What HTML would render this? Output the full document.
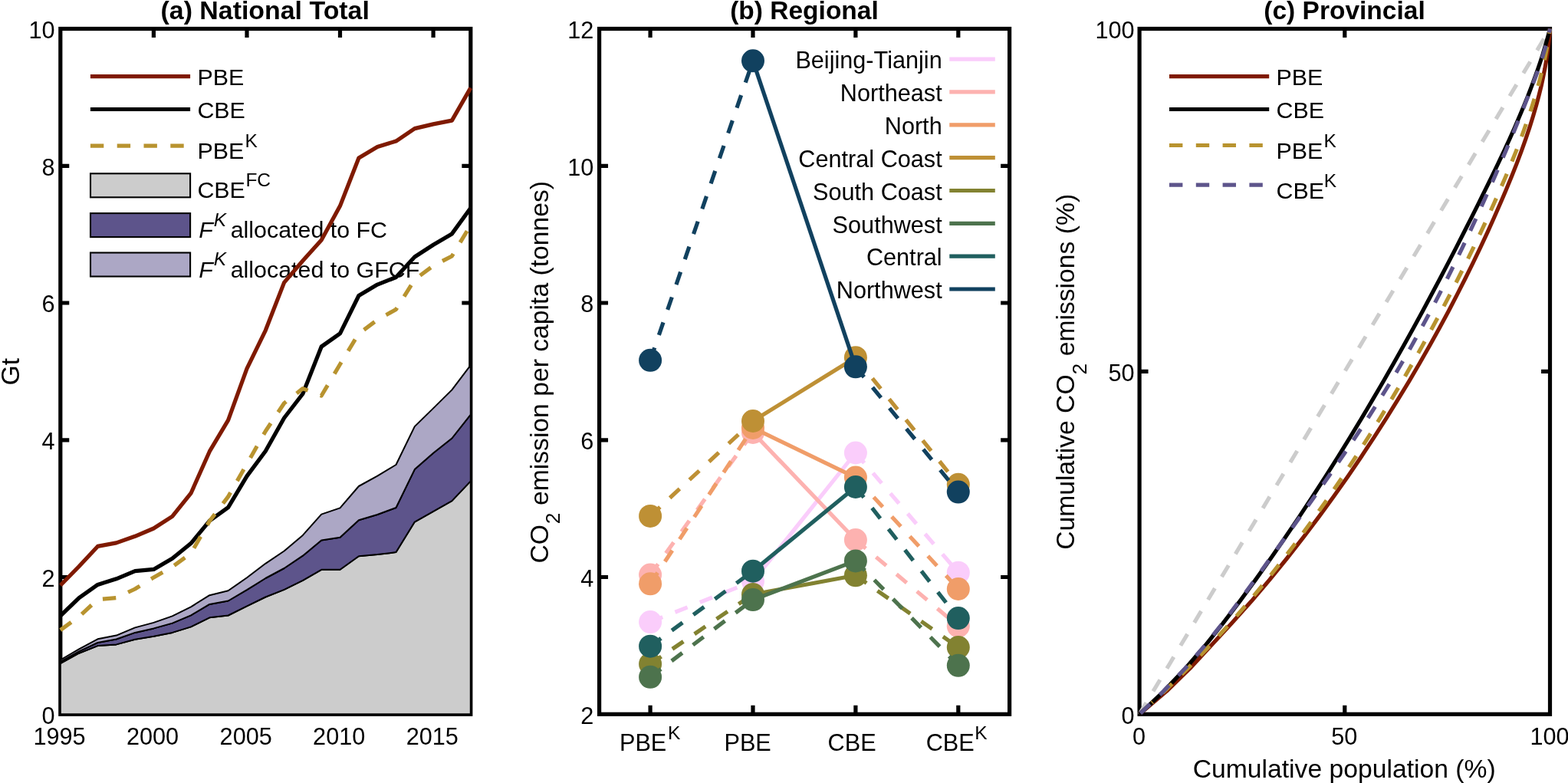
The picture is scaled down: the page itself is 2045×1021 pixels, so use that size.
<!DOCTYPE html>
<html lang="en">
<head>
<meta charset="utf-8">
<title>Emissions: national total, regional, provincial</title>
<style>
html,body{margin:0;padding:0;background:#fff;}
body{width:2045px;height:1021px;overflow:hidden;}
svg{display:block;}
svg text{font-family:"Liberation Sans",sans-serif;font-size:30.65px;fill:#000;}
svg text.L{font-size:33.7px;}
svg text.g{font-size:30.4px;}
svg text.T{font-size:33.9px;font-weight:bold;}
</style>
</head>
<body>
<svg width="2045" height="1021" viewBox="0 0 2045 1021" role="img" aria-label="Three-panel figure: (a) National Total, (b) Regional, (c) Provincial">
<rect width="2045" height="1021" fill="#fff"/>
<g id="panel-a">
<rect x="78.8" y="37.5" width="535" height="893.8" fill="none" stroke="#000" stroke-width="5.2"/>
<path d="M200.4 931.3v-11.45M200.4 37.5v11.45M322 931.3v-11.45M322 37.5v11.45M443.5 931.3v-11.45M443.5 37.5v11.45M565.1 931.3v-11.45M565.1 37.5v11.45M78.8 752.5h11.45M613.8 752.5h-11.45M78.8 573.8h11.45M613.8 573.8h-11.45M78.8 395h11.45M613.8 395h-11.45M78.8 216.3h11.45M613.8 216.3h-11.45" fill="none" stroke="#000" stroke-width="5.2"/>
<text x="71.6" y="943.6" text-anchor="end">0</text>
<text x="71.6" y="764.8" text-anchor="end">2</text>
<text x="71.6" y="586.1" text-anchor="end">4</text>
<text x="71.6" y="407.3" text-anchor="end">6</text>
<text x="71.6" y="228.6" text-anchor="end">8</text>
<text x="71.6" y="49.8" text-anchor="end">10</text>
<text x="77.5" y="970.6" text-anchor="middle">1995</text>
<text x="199.1" y="970.6" text-anchor="middle">2000</text>
<text x="320.7" y="970.6" text-anchor="middle">2005</text>
<text x="442.2" y="970.6" text-anchor="middle">2010</text>
<text x="563.8" y="970.6" text-anchor="middle">2015</text>
<text x="345.7" y="24.7" text-anchor="middle" class="T">(a) National Total</text>
<text transform="translate(25.1 484.6) rotate(-90)" text-anchor="middle" class="L">Gt</text>
<path d="M117.9 99.6H248.1" stroke="#7f1a00" stroke-width="5.2" fill="none"/>
<path d="M117.9 142.5H248.1" stroke="#000" stroke-width="5.2" fill="none"/>
<path d="M117.9 190.1H248.1" stroke="#b8932f" stroke-width="5.2" stroke-dasharray="17.4 17.4" fill="none"/>
<rect x="118" y="226.3" width="130.1" height="31" fill="#cccccc" stroke="#000" stroke-width="2.1"/>
<rect x="118" y="278.1" width="130.1" height="31" fill="#5d548b" stroke="#000" stroke-width="2.1"/>
<rect x="118" y="329.5" width="130.1" height="31" fill="#aca7c5" stroke="#000" stroke-width="2.1"/>
<text x="257.4" y="110.9" class="g">PBE</text>
<text x="257.4" y="154.2" class="g">CBE</text>
<text class="g" x="257.4" y="207.1">PBE<tspan dx="1.3" dy="-15.1" font-size="24.5">K</tspan></text>
<text class="g" x="257.4" y="258.3">CBE<tspan dx="0.5" dy="-15.3" font-size="24.5">FC</tspan></text>
<text class="g" x="259.3" y="310.1"><tspan font-style="italic">F</tspan><tspan dx="0.9" dy="-15.5" font-size="24.5" font-style="italic">K</tspan><tspan dx="-2.9" dy="15.5"> allocated to FC</tspan></text>
<text class="g" x="259.3" y="361.5"><tspan font-style="italic">F</tspan><tspan dx="0.9" dy="-15.5" font-size="24.5" font-style="italic">K</tspan><tspan dx="-2.9" dy="15.5"> allocated to GFCF</tspan></text>
<polygon points="78.8,865 103.1,851.7 127.4,842.1 151.7,840.4 176.1,833.8 200.4,829.7 224.7,824.9 249,817.4 273.3,805.3 297.6,802.5 322,790.4 346.3,778.5 370.6,768.9 394.9,756.8 419.2,742.8 443.5,742.8 467.9,725.3 492.2,723.1 516.5,720.1 540.8,680.6 565.1,666.8 589.4,653.1 613.8,627.4 613.8,931.3 589.4,931.3 565.1,931.3 540.8,931.3 516.5,931.3 492.2,931.3 467.9,931.3 443.5,931.3 419.2,931.3 394.9,931.3 370.6,931.3 346.3,931.3 322,931.3 297.6,931.3 273.3,931.3 249,931.3 224.7,931.3 200.4,931.3 176.1,931.3 151.7,931.3 127.4,931.3 103.1,931.3 78.8,931.3" fill="#cccccc" stroke="#000" stroke-width="2.0" stroke-linejoin="round"/>
<polygon points="78.8,862.8 103.1,849.3 127.4,838 151.7,833.5 176.1,824.9 200.4,819.4 224.7,812.6 249,802.3 273.3,787.9 297.6,783.5 322,769.2 346.3,754 370.6,741 394.9,724.7 419.2,704.4 443.5,700.8 467.9,678.2 492.2,671 516.5,662 540.8,612.1 565.1,590.7 589.4,571.5 613.8,540.6 613.8,627.4 589.4,653.1 565.1,666.8 540.8,680.6 516.5,720.1 492.2,723.1 467.9,725.3 443.5,742.8 419.2,742.8 394.9,756.8 370.6,768.9 346.3,778.5 322,790.4 297.6,802.5 273.3,805.3 249,817.4 224.7,824.9 200.4,829.7 176.1,833.8 151.7,840.4 127.4,842.1 103.1,851.7 78.8,865" fill="#5d548b" stroke="#000" stroke-width="2.0" stroke-linejoin="round"/>
<polygon points="78.8,860.5 103.1,846.3 127.4,833.3 151.7,828.6 176.1,818.4 200.4,811.9 224.7,803.4 249,791.3 273.3,776.2 297.6,770.3 322,753.2 346.3,734.8 370.6,718.5 394.9,697.9 419.2,670.6 443.5,662.4 467.9,634 492.2,620.6 516.5,606 540.8,556.1 565.1,532.4 589.4,508.4 613.8,476.2 613.8,540.6 589.4,571.5 565.1,590.7 540.8,612.1 516.5,662 492.2,671 467.9,678.2 443.5,700.8 419.2,704.4 394.9,724.7 370.6,741 346.3,754 322,769.2 297.6,783.5 273.3,787.9 249,802.3 224.7,812.6 200.4,819.4 176.1,824.9 151.7,833.5 127.4,838 103.1,849.3 78.8,862.8" fill="#aca7c5" stroke="#000" stroke-width="2.0" stroke-linejoin="round"/>
<polyline points="78.8,763.2 103.1,738.5 127.4,712.4 151.7,707.9 176.1,699.3 200.4,689 224.7,673.4 249,643.2 273.3,588.7 297.6,547.8 322,480.6 346.3,430.8 370.6,368.4 394.9,340 419.2,313.1 443.5,268.6 467.9,206 492.2,191.4 516.5,184.1 540.8,167.6 565.1,161.9 589.4,157.1 613.8,114.6" fill="none" stroke="#7f1a00" stroke-width="5.2" stroke-linejoin="round"/>
<polyline points="78.8,803 103.1,779.7 127.4,762.4 151.7,754.8 176.1,744.7 200.4,742.4 224.7,728.3 249,708.6 273.3,679.1 297.6,661.7 322,620.9 346.3,588.2 370.6,545 394.9,513.5 419.2,452 443.5,434.9 467.9,385.5 492.2,371.1 516.5,361.5 540.8,335 565.1,319.3 589.4,304.9 613.8,271.3" fill="none" stroke="#000" stroke-width="5.2" stroke-linejoin="round"/>
<polyline points="78.8,821.7 103.1,804 127.4,781.7 151.7,779.5 176.1,768 200.4,752.9 224.7,739.2 249,721.5 273.3,679.5 297.6,647.6 322,605 346.3,562.2 370.6,525.8 394.9,506.6 419.2,516 443.5,475 467.9,435 492.2,417.1 516.5,403.4 540.8,364.5 565.1,346.5 589.4,334 613.8,293.5" fill="none" stroke="#b8932f" stroke-width="5.2" stroke-linejoin="round" stroke-dasharray="17.4 17.4"/>
</g>
<g id="panel-b">
<rect x="781.6" y="37.5" width="535" height="893.8" fill="none" stroke="#000" stroke-width="5.2"/>
<path d="M848.1 931.3v-11.45M848.1 37.5v11.45M982 931.3v-11.45M982 37.5v11.45M1115.9 931.3v-11.45M1115.9 37.5v11.45M1249.8 931.3v-11.45M1249.8 37.5v11.45M781.6 752.5h11.45M1316.6 752.5h-11.45M781.6 573.8h11.45M1316.6 573.8h-11.45M781.6 395h11.45M1316.6 395h-11.45M781.6 216.3h11.45M1316.6 216.3h-11.45" fill="none" stroke="#000" stroke-width="5.2"/>
<text x="774.4" y="943.6" text-anchor="end">2</text>
<text x="774.4" y="764.8" text-anchor="end">4</text>
<text x="774.4" y="586.1" text-anchor="end">6</text>
<text x="774.4" y="407.3" text-anchor="end">8</text>
<text x="774.4" y="228.6" text-anchor="end">10</text>
<text x="774.4" y="49.8" text-anchor="end">12</text>
<text x="1049" y="24.7" text-anchor="middle" class="T" style="font-size:33.5px">(b) Regional</text>
<text transform="translate(714.7 485.2) rotate(-90)" text-anchor="middle" class="L">CO<tspan dx="0.8" dy="15.5" font-size="26.4">2</tspan><tspan dy="-15.5"> emission per capita (tonnes)</tspan></text>
<text x="808" y="978.9">PBE<tspan dx="1.6" dy="-14.6" font-size="24.5">K</tspan></text>
<text x="944.5" y="978.9">PBE</text>
<text x="1079.6" y="978.9">CBE</text>
<text x="1207.7" y="978.9">CBE<tspan dx="0.5" dy="-14.6" font-size="24.5">K</tspan></text>
<text x="1228.7" y="89.2" text-anchor="end">Beijing-Tianjin</text>
<path d="M1238.3 77.1H1297.8" stroke="#facdfb" stroke-width="5.2" fill="none"/>
<text x="1228.7" y="132" text-anchor="end">Northeast</text>
<path d="M1238.3 119.9H1297.8" stroke="#fdb2b0" stroke-width="5.2" fill="none"/>
<text x="1228.7" y="174.9" text-anchor="end">North</text>
<path d="M1238.3 162.8H1297.8" stroke="#f09d69" stroke-width="5.2" fill="none"/>
<text x="1228.7" y="217.8" text-anchor="end">Central Coast</text>
<path d="M1238.3 205.7H1297.8" stroke="#be9035" stroke-width="5.2" fill="none"/>
<text x="1228.7" y="260.6" text-anchor="end">South Coast</text>
<path d="M1238.3 248.5H1297.8" stroke="#828231" stroke-width="5.2" fill="none"/>
<text x="1228.7" y="303.5" text-anchor="end">Southwest</text>
<path d="M1238.3 291.4H1297.8" stroke="#4d734d" stroke-width="5.2" fill="none"/>
<text x="1228.7" y="346.3" text-anchor="end">Central</text>
<path d="M1238.3 334.2H1297.8" stroke="#205f5f" stroke-width="5.2" fill="none"/>
<text x="1228.7" y="389.1" text-anchor="end">Northwest</text>
<path d="M1238.3 377H1297.8" stroke="#11415f" stroke-width="5.2" fill="none"/>
<g stroke="#facdfb" fill="#facdfb" stroke-width="5.2">
<path d="M848.1 811.1L982 758M1115.9 590.5L1249.8 746.7" fill="none" stroke-dasharray="17.4 17.4"/>
<path d="M982 758L1115.9 590.5" fill="none"/>
<circle cx="848.1" cy="811.1" r="15.0" stroke="none"/>
<circle cx="982" cy="758" r="15.0" stroke="none"/>
<circle cx="1115.9" cy="590.5" r="15.0" stroke="none"/>
<circle cx="1249.8" cy="746.7" r="15.0" stroke="none"/>
</g>
<g stroke="#fdb2b0" fill="#fdb2b0" stroke-width="5.2">
<path d="M848.1 749.6L982 564M1115.9 704L1249.8 816.4" fill="none" stroke-dasharray="17.4 17.4"/>
<path d="M982 564L1115.9 704" fill="none"/>
<circle cx="848.1" cy="749.6" r="15.0" stroke="none"/>
<circle cx="982" cy="564" r="15.0" stroke="none"/>
<circle cx="1115.9" cy="704" r="15.0" stroke="none"/>
<circle cx="1249.8" cy="816.4" r="15.0" stroke="none"/>
</g>
<g stroke="#f09d69" fill="#f09d69" stroke-width="5.2">
<path d="M848.1 761.3L982 557.9M1115.9 622.6L1249.8 768" fill="none" stroke-dasharray="17.4 17.4"/>
<path d="M982 557.9L1115.9 622.6" fill="none"/>
<circle cx="848.1" cy="761.3" r="15.0" stroke="none"/>
<circle cx="982" cy="557.9" r="15.0" stroke="none"/>
<circle cx="1115.9" cy="622.6" r="15.0" stroke="none"/>
<circle cx="1249.8" cy="768" r="15.0" stroke="none"/>
</g>
<g stroke="#be9035" fill="#be9035" stroke-width="5.2">
<path d="M848.1 672.9L982 549M1115.9 466.2L1249.8 631.8" fill="none" stroke-dasharray="17.4 17.4"/>
<path d="M982 549L1115.9 466.2" fill="none"/>
<circle cx="848.1" cy="672.9" r="15.0" stroke="none"/>
<circle cx="982" cy="549" r="15.0" stroke="none"/>
<circle cx="1115.9" cy="466.2" r="15.0" stroke="none"/>
<circle cx="1249.8" cy="631.8" r="15.0" stroke="none"/>
</g>
<g stroke="#828231" fill="#828231" stroke-width="5.2">
<path d="M848.1 865.8L982 775M1115.9 750.3L1249.8 844.1" fill="none" stroke-dasharray="17.4 17.4"/>
<path d="M982 775L1115.9 750.3" fill="none"/>
<circle cx="848.1" cy="865.8" r="15.0" stroke="none"/>
<circle cx="982" cy="775" r="15.0" stroke="none"/>
<circle cx="1115.9" cy="750.3" r="15.0" stroke="none"/>
<circle cx="1249.8" cy="844.1" r="15.0" stroke="none"/>
</g>
<g stroke="#4d734d" fill="#4d734d" stroke-width="5.2">
<path d="M848.1 882.8L982 782.1M1115.9 731.4L1249.8 867.8" fill="none" stroke-dasharray="17.4 17.4"/>
<path d="M982 782.1L1115.9 731.4" fill="none"/>
<circle cx="848.1" cy="882.8" r="15.0" stroke="none"/>
<circle cx="982" cy="782.1" r="15.0" stroke="none"/>
<circle cx="1115.9" cy="731.4" r="15.0" stroke="none"/>
<circle cx="1249.8" cy="867.8" r="15.0" stroke="none"/>
</g>
<g stroke="#205f5f" fill="#205f5f" stroke-width="5.2">
<path d="M848.1 842.7L982 744.7M1115.9 635L1249.8 806.1" fill="none" stroke-dasharray="17.4 17.4"/>
<path d="M982 744.7L1115.9 635" fill="none"/>
<circle cx="848.1" cy="842.7" r="15.0" stroke="none"/>
<circle cx="982" cy="744.7" r="15.0" stroke="none"/>
<circle cx="1115.9" cy="635" r="15.0" stroke="none"/>
<circle cx="1249.8" cy="806.1" r="15.0" stroke="none"/>
</g>
<g stroke="#11415f" fill="#11415f" stroke-width="5.2">
<path d="M848.1 469.8L982 79.3M1115.9 478.3L1249.8 641.6" fill="none" stroke-dasharray="17.4 17.4"/>
<path d="M982 79.3L1115.9 478.3" fill="none"/>
<circle cx="848.1" cy="469.8" r="15.0" stroke="none"/>
<circle cx="982" cy="79.3" r="15.0" stroke="none"/>
<circle cx="1115.9" cy="478.3" r="15.0" stroke="none"/>
<circle cx="1249.8" cy="641.6" r="15.0" stroke="none"/>
</g>
</g>
<g id="panel-c">
<rect x="1486.1" y="37.5" width="535.4" height="893.8" fill="none" stroke="#000" stroke-width="5.2"/>
<path d="M1753.8 931.3v-11.45M1753.8 37.5v11.45M1486.1 484.4h11.45M2021.5 484.4h-11.45" fill="none" stroke="#000" stroke-width="5.2"/>
<text x="1479.5" y="943.6" text-anchor="end">0</text>
<text x="1479.5" y="496.7" text-anchor="end">50</text>
<text x="1479.5" y="49.8" text-anchor="end">100</text>
<text x="1485.6" y="970.6" text-anchor="middle">0</text>
<text x="1753.3" y="970.6" text-anchor="middle">50</text>
<text x="2021" y="970.6" text-anchor="middle">100</text>
<text x="1753.5" y="24.7" text-anchor="middle" class="T" style="font-size:33.5px">(c) Provincial</text>
<text x="1753.2" y="1013.6" text-anchor="middle" class="L">Cumulative population (%)</text>
<text transform="translate(1401.1 484.8) rotate(-90)" text-anchor="middle" class="L">Cumulative CO<tspan dy="15.5" font-size="26.4">2</tspan><tspan dy="-15.5"> emissions (%)</tspan></text>
<path d="M1525.0 99.6H1655.2" stroke="#7f1a00" stroke-width="5.2" fill="none"/>
<path d="M1525.0 142.5H1655.2" stroke="#000" stroke-width="5.2" fill="none"/>
<path d="M1525.0 189.5H1655.2" stroke="#b8932f" stroke-width="5.2" stroke-dasharray="17.4 17.4" fill="none"/>
<path d="M1525.0 241.1H1655.2" stroke="#5d548b" stroke-width="5.2" stroke-dasharray="17.4 17.4" fill="none"/>
<text x="1664.5" y="110.9" class="g">PBE</text>
<text x="1664.5" y="154.2" class="g">CBE</text>
<text class="g" x="1664.5" y="207.1">PBE<tspan dx="1.3" dy="-15.1" font-size="24.5">K</tspan></text>
<text class="g" x="1664.5" y="258.9">CBE<tspan dx="-0.2" dy="-15.1" font-size="24.5">K</tspan></text>
<polyline points="1486.1,931.3 2021.5,37.5" fill="none" stroke="#cccccc" stroke-width="5.2" stroke-linejoin="round" stroke-dasharray="17.4 17.4"/>
<polyline points="1486.1,931.3 1521.7,901.1 1552.3,871.2 1579.5,841.8 1606.3,812.7 1632,784.1 1655.9,755.9 1678.5,728 1699.9,700.6 1720.3,673.6 1739.7,647 1758.1,620.9 1775.6,595.2 1792.3,569.9 1808.2,545.1 1823.4,520.7 1837.9,496.8 1851.7,473.3 1864.8,450.3 1877.3,427.7 1889.2,405.7 1900.4,384.1 1911.1,363 1921.3,342.4 1930.9,322.4 1940,302.8 1948.6,283.8 1956.7,265.3 1964.4,247.3 1971.5,230 1978.2,213.1 1984.3,196.9 1989.8,181.3 1994.9,166.2 1999.4,151.8 2003.4,138.1 2006.9,125 2010,112.6 2012.5,101 2014.7,90.1 2016.5,80 2018,70.7 2019.1,62.3 2020,54.8 2020.6,48.4 2021.1,43.2 2021.4,39.4 2021.5,37.5" fill="none" stroke="#7f1a00" stroke-width="5.2" stroke-linejoin="round"/>
<polyline points="1486.1,931.3 1518.1,901.1 1546.4,871.2 1571.8,841.8 1595.1,812.7 1616.9,784.1 1637.6,755.9 1657.4,728 1676.4,700.6 1694.6,673.6 1712.2,647 1729.1,620.9 1745.4,595.2 1761,569.9 1776,545.1 1790.5,520.7 1804.5,496.8 1817.9,473.3 1830.9,450.3 1843.4,427.7 1855.4,405.7 1867,384.1 1878.2,363 1889,342.4 1899.4,322.4 1909.4,302.8 1919,283.8 1928.3,265.3 1937.2,247.3 1945.8,230 1953.9,213.1 1961.6,196.9 1968.8,181.3 1975.5,166.2 1981.7,151.8 1987.5,138.1 1992.8,125 1997.5,112.6 2001.8,101 2005.7,90.1 2009.1,80 2012.1,70.7 2014.6,62.3 2016.8,54.8 2018.6,48.4 2020,43.2 2021,39.4 2021.5,37.5" fill="none" stroke="#000" stroke-width="5.2" stroke-linejoin="round"/>
<polyline points="1502.3,916.4 1519,901.1 1549.5,871.2 1577.9,841.8 1604.4,812.7 1629.3,784.1 1652.6,755.9 1674.6,728 1695.4,700.6 1715.1,673.6 1733.9,647 1751.6,620.9 1768.5,595.2 1784.7,569.9 1800,545.1 1814.8,520.7 1828.9,496.8 1842.4,473.3 1855.4,450.3 1867.8,427.7 1879.7,405.7 1891,384.1 1901.8,363 1912.1,342.4 1921.9,322.4 1931.2,302.8 1940.1,283.8 1948.5,265.3 1956.4,247.3 1963.9,230 1970.9,213.1 1977.4,196.9 1983.4,181.3 1988.8,166.2 1993.8,151.8 1998.3,138.1 2002.3,125 2005.9,112.6 2009,101 2011.7,90.1 2014,80 2015.9,70.7 2017.5,62.3 2018.9,54.8 2019.9,48.4 2020.7,43.2 2021.2,39.4 2021.5,37.5" fill="none" stroke="#b8932f" stroke-width="5.2" stroke-linejoin="round" stroke-dasharray="17.4 17.4" stroke-dashoffset="16.0"/>
<polyline points="1486.1,931.3 1517.7,901.1 1545.9,871.2 1571.3,841.8 1594.5,812.7 1616.1,784.1 1636.7,755.9 1656.8,728 1676.5,700.6 1695.8,673.6 1714.7,647 1733,620.9 1750.7,595.2 1767.8,569.9 1784.1,545.1 1799.6,520.7 1814.4,496.8 1828.3,473.3 1841.4,450.3 1853.9,427.7 1865.7,405.7 1877,384.1 1887.6,363 1897.8,342.4 1907.5,322.4 1916.7,302.8 1925.5,283.8 1933.9,265.3 1941.9,247.3 1949.6,230 1956.9,213.1 1963.8,196.9 1970.4,181.3 1976.6,166.2 1982.5,151.8 1988,138.1 1993.2,125 1998.1,112.6 2002.4,101 2006.4,90.1 2009.8,80 2012.8,70.7 2015.3,62.3 2017.4,54.8 2019,48.4 2020.2,43.2 2021.1,39.4 2021.5,37.5" fill="none" stroke="#5d548b" stroke-width="5.2" stroke-linejoin="round" stroke-dasharray="17.4 17.4" stroke-dashoffset="-1.8"/>
</g>
</svg>
</body>
</html>
